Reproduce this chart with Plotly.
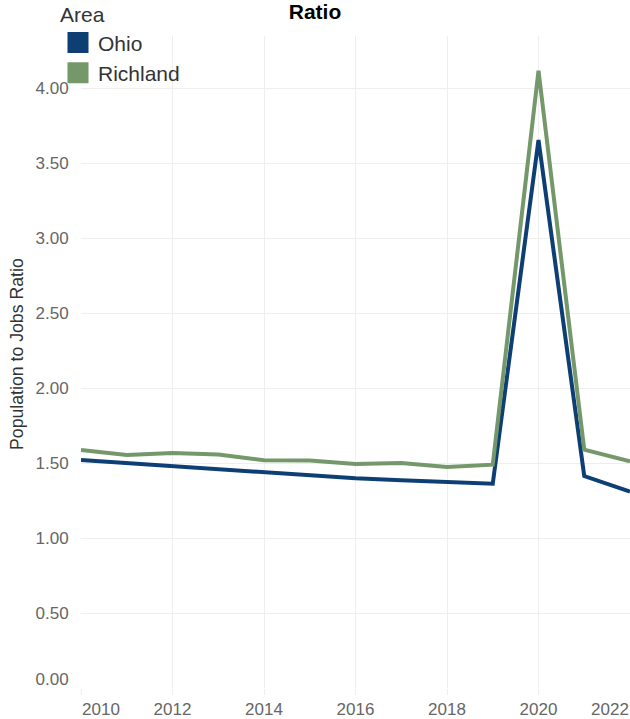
import plotly.graph_objects as go

years = list(range(2010, 2023))
ohio = [1.52, 1.50, 1.48, 1.46, 1.44, 1.418, 1.398, 1.385, 1.376, 1.362, 3.653, 1.413, 1.31]
richland = [1.587, 1.553, 1.567, 1.556, 1.518, 1.516, 1.493, 1.50, 1.473, 1.489, 4.115, 1.589, 1.511]

x_ticks = [2010, 2012, 2014, 2016, 2018, 2020, 2022]
x_labels = ["2010", "2012", "2014", "2016", "2018", "2020", "2022"]
y_ticks = [0, 0.5, 1.0, 1.5, 2.0, 2.5, 3.0, 3.5, 4.0]
y_labels = ["0.00", "0.50", "1.00", "1.50", "2.00", "2.50", "3.00", "3.50", "4.00"]
y_title = "Population to Jobs Ratio"

OHIO_C = "#0E3F74"
RICH_C = "#74986A"
GRID = "#eeeeee"
FONT = "Liberation Sans, Arial, sans-serif"

fig = go.Figure()
fig.add_trace(go.Scatter(x=years, y=ohio, mode="lines", name="Ohio",
                         line=dict(color=OHIO_C, width=4), showlegend=False))
fig.add_trace(go.Scatter(x=years, y=richland, mode="lines", name="Richland",
                         line=dict(color=RICH_C, width=4), showlegend=False))
# legend entries (square swatches)
fig.add_trace(go.Scatter(x=[None], y=[None], mode="markers", name="Ohio",
                         marker=dict(symbol="square", size=16, color=OHIO_C,
                                     line=dict(color=OHIO_C, width=5)),
                         xaxis="x2", yaxis="y2"))
fig.add_trace(go.Scatter(x=[None], y=[None], mode="markers", name="Richland",
                         marker=dict(symbol="square", size=16, color=RICH_C,
                                     line=dict(color=RICH_C, width=5)),
                         xaxis="x3", yaxis="y2"))

xr = [2010, 2022]
yr = [0, 4.347]
tickfont = dict(size=17, color="#666666", family=FONT)

common_x = dict(range=xr, ticks="outside", ticklen=6, tickcolor=GRID,
                tickfont=tickfont, zeroline=False, showline=False, automargin=False,
                fixedrange=True, showgrid=True, gridcolor=GRID, gridwidth=1)
common_y = dict(range=yr, ticks="outside", ticklen=8, tickcolor="rgba(0,0,0,0)",
                tickfont=tickfont, zeroline=False, showline=False, automargin=False,
                fixedrange=True, showgrid=True, gridcolor=GRID, gridwidth=1)

L, R, T, B = 81, 0, 36, 31
W, H = 630, 719
PW, PH = W - L - R, H - T - B

fig.update_layout(
    width=W, height=H,
    margin=dict(l=L, r=R, t=T, b=B, autoexpand=False),
    paper_bgcolor="white", plot_bgcolor="white",
    font=dict(family=FONT, color="#333333"),
    title=dict(text="<b>Ratio</b>", x=0.5, xanchor="center", xref="container",
               y=1 - 12 / H, yanchor="middle", yref="container",
               font=dict(size=21, color="#000000", family=FONT)),
    xaxis=dict(tickvals=x_ticks[1:-1], ticktext=x_labels[1:-1], **common_x),
    xaxis2=dict(overlaying="x", anchor="y", tickvals=[x_ticks[0]], ticktext=[x_labels[0]],
                ticklabelshift=20, **common_x),
    xaxis3=dict(overlaying="x", anchor="y", tickvals=[x_ticks[-1]], ticktext=[x_labels[-1]],
                ticklabelshift=-20, **common_x),
    yaxis=dict(tickvals=y_ticks[1:], ticktext=y_labels[1:], **common_y),
    yaxis2=dict(overlaying="y", anchor="x", side="left", tickvals=[y_ticks[0]],
                ticktext=[y_labels[0]], ticklabelshift=-9, **common_y),
    legend=dict(title=dict(text="Area", font=dict(size=21, color="#333333", family=FONT)),
                font=dict(size=21, color="#333333", family=FONT),
                xref="paper", yref="paper", x=(58 - L) / PW, y=1 + (T + 5) / PH,
                xanchor="left", yanchor="top", bgcolor="rgba(0,0,0,0)",
                tracegroupgap=0, itemsizing="trace"),
    annotations=[dict(text=y_title, textangle=-90, showarrow=False,
                      xref="paper", yref="paper",
                      x=(17 - L) / PW, y=(H - B - 354) / PH,
                      xanchor="center", yanchor="middle",
                      font=dict(size=17.7, color="#333333", family=FONT))],
)

fig.write_html("out.html", config={"displayModeBar": False},
               post_script="document.body.style.margin='0';")
